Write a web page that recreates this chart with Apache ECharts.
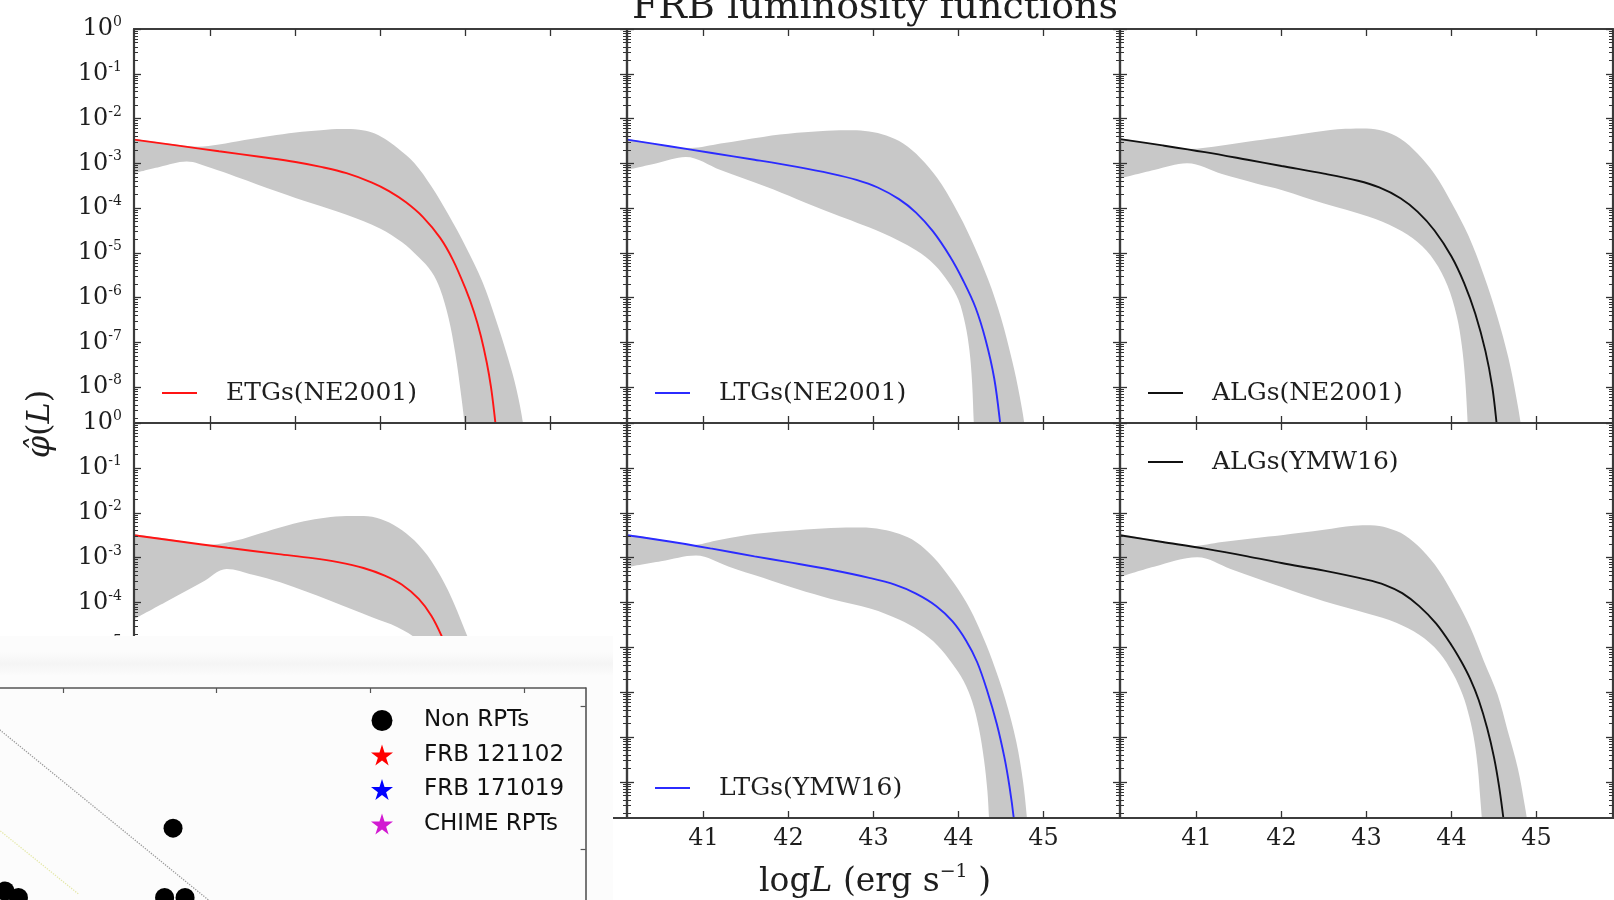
<!DOCTYPE html>
<html>
<head>
<meta charset="utf-8">
<script src="https://cdn.jsdelivr.net/npm/echarts@6/dist/echarts.min.js"></script>
<style>
  html, body { margin: 0; padding: 0; background: #ffffff; }
  #chart { width: 1614px; height: 900px; }
</style>
</head>
<body>
<div id="chart"></div>
<script>
// Tick positions: log L (erg/s) and decades of phi (stored as log10 phi)
const logLTicks = [41, 42, 43, 44, 45];
const decadeTicks = [0, -1, -2, -3, -4, -5, -6, -7, -8];

// ETGs (NE2001): best-fit curve and confidence band, [log L, log10 phi]
const etgNeLine = [[40.1,-2.47],[40.6,-2.6],[41.1,-2.73],[41.6,-2.86],[42.0,-2.97],[42.3,-3.08],[42.6,-3.22],[42.9,-3.43],[43.1,-3.62],[43.3,-3.87],[43.5,-4.2],[43.7,-4.66],[43.85,-5.15],[44.0,-5.8],[44.1,-6.32],[44.18,-6.85],[44.25,-7.45],[44.3,-8.0],[44.34,-8.6],[44.38,-9.3]];
const etgNeHi = [[40.1,-2.45],[40.5,-2.56],[40.85,-2.63],[41.1,-2.58],[41.4,-2.48],[41.7,-2.39],[42.0,-2.31],[42.3,-2.26],[42.55,-2.235],[42.75,-2.25],[42.9,-2.31],[43.05,-2.45],[43.2,-2.66],[43.4,-3.0],[43.6,-3.52],[43.8,-4.15],[44.0,-4.85],[44.2,-5.65],[44.35,-6.45],[44.5,-7.35],[44.6,-8.05],[44.68,-8.85],[44.72,-9.6]];
const etgNeLo = [[40.1,-3.22],[40.4,-3.08],[40.72,-2.96],[41.0,-3.1],[41.3,-3.3],[41.8,-3.64],[42.2,-3.9],[42.6,-4.15],[43.0,-4.46],[43.25,-4.76],[43.45,-5.1],[43.6,-5.42],[43.7,-5.8],[43.8,-6.45],[43.88,-7.25],[43.95,-8.2],[43.99,-8.85],[44.02,-9.6]];

// LTGs (NE2001)
const ltgNeLine = [[40.1,-2.47],[40.6,-2.62],[41.1,-2.77],[41.6,-2.92],[42.1,-3.08],[42.5,-3.23],[42.8,-3.37],[43.05,-3.54],[43.3,-3.8],[43.5,-4.1],[43.7,-4.52],[43.9,-5.08],[44.05,-5.6],[44.2,-6.22],[44.32,-6.95],[44.42,-7.8],[44.49,-8.8],[44.53,-9.6]];
const ltgNeHi = [[40.1,-2.45],[40.5,-2.58],[40.85,-2.66],[41.2,-2.56],[41.7,-2.41],[42.1,-2.32],[42.45,-2.27],[42.75,-2.26],[42.95,-2.29],[43.15,-2.38],[43.35,-2.56],[43.55,-2.88],[43.75,-3.33],[43.95,-3.95],[44.15,-4.7],[44.35,-5.6],[44.5,-6.45],[44.63,-7.4],[44.72,-8.2],[44.78,-8.9],[44.81,-9.6]];
const ltgNeLo = [[40.1,-3.15],[40.45,-3.0],[40.79,-2.86],[41.2,-3.15],[41.73,-3.52],[42.1,-3.8],[42.52,-4.12],[43.1,-4.55],[43.5,-4.94],[43.72,-5.27],[43.88,-5.65],[44.0,-6.05],[44.08,-6.6],[44.13,-7.2],[44.16,-7.9],[44.18,-8.8],[44.2,-9.6]];

// ALGs (NE2001)
const algNeLine = [[40.1,-2.46],[40.6,-2.6],[41.1,-2.75],[41.6,-2.92],[42.0,-3.06],[42.5,-3.23],[42.9,-3.39],[43.15,-3.54],[43.4,-3.78],[43.6,-4.08],[43.8,-4.5],[44.0,-5.08],[44.15,-5.68],[44.28,-6.36],[44.4,-7.2],[44.48,-8.0],[44.53,-8.8],[44.57,-9.6]];
const algNeHi = [[40.1,-2.44],[40.5,-2.57],[40.9,-2.68],[41.3,-2.6],[41.7,-2.49],[42.0,-2.41],[42.4,-2.3],[42.75,-2.23],[43.0,-2.22],[43.2,-2.28],[43.4,-2.45],[43.6,-2.78],[43.8,-3.24],[44.0,-3.88],[44.2,-4.62],[44.38,-5.5],[44.54,-6.43],[44.67,-7.35],[44.76,-8.2],[44.82,-8.9],[44.85,-9.6]];
const algNeLo = [[40.1,-3.34],[40.5,-3.15],[40.89,-3.0],[41.3,-3.24],[41.7,-3.45],[42.01,-3.6],[42.5,-3.9],[43.02,-4.19],[43.35,-4.45],[43.6,-4.76],[43.8,-5.18],[43.95,-5.72],[44.06,-6.4],[44.12,-7.05],[44.16,-7.8],[44.19,-8.8],[44.21,-9.6]];

// ETGs (YMW16)
const etgYmLine = [[40.1,-2.5],[40.6,-2.63],[41.2,-2.78],[41.8,-2.92],[42.2,-3.01],[42.5,-3.1],[42.8,-3.23],[43.05,-3.4],[43.25,-3.6],[43.45,-3.92],[43.6,-4.3],[43.72,-4.75],[43.85,-5.35],[44.0,-6.05],[44.15,-6.95],[44.28,-7.95],[44.37,-8.85],[44.41,-9.6]];
const etgYmHi = [[40.1,-2.48],[40.6,-2.61],[41.0,-2.71],[41.3,-2.62],[41.6,-2.45],[41.85,-2.31],[42.1,-2.19],[42.35,-2.11],[42.6,-2.07],[42.8,-2.07],[43.0,-2.14],[43.2,-2.32],[43.4,-2.62],[43.6,-3.08],[43.8,-3.75],[44.0,-4.65],[44.2,-5.6],[44.4,-6.7],[44.55,-7.7],[44.68,-8.9],[44.72,-9.6]];
const etgYmLo = [[40.1,-4.37],[40.5,-3.96],[40.9,-3.55],[41.19,-3.25],[41.5,-3.38],[41.82,-3.55],[42.41,-3.96],[42.9,-4.33],[43.2,-4.55],[43.45,-4.85],[43.62,-5.25],[43.75,-5.85],[43.85,-6.7],[43.93,-7.7],[43.98,-8.8],[44.01,-9.6]];

// LTGs (YMW16)
const ltgYmLine = [[40.1,-2.5],[40.6,-2.64],[41.1,-2.8],[41.6,-2.97],[42.0,-3.1],[42.5,-3.27],[42.95,-3.45],[43.25,-3.6],[43.5,-3.8],[43.74,-4.08],[43.93,-4.42],[44.09,-4.85],[44.22,-5.33],[44.34,-5.98],[44.45,-6.7],[44.54,-7.45],[44.6,-8.1],[44.65,-8.8],[44.69,-9.6]];
const ltgYmHi = [[40.1,-2.48],[40.5,-2.6],[40.85,-2.72],[41.2,-2.6],[41.62,-2.47],[42.1,-2.39],[42.5,-2.34],[42.85,-2.33],[43.1,-2.37],[43.3,-2.47],[43.5,-2.65],[43.7,-2.98],[43.9,-3.45],[44.1,-4.02],[44.25,-4.6],[44.4,-5.3],[44.55,-6.15],[44.68,-7.1],[44.76,-8.0],[44.81,-8.9],[44.84,-9.6]];
const ltgYmLo = [[40.1,-3.21],[40.5,-3.08],[40.91,-2.95],[41.3,-3.2],[41.7,-3.45],[42.1,-3.7],[42.5,-3.92],[42.97,-4.14],[43.3,-4.38],[43.54,-4.63],[43.75,-4.95],[43.93,-5.37],[44.06,-5.75],[44.16,-6.2],[44.24,-6.8],[44.3,-7.5],[44.34,-8.2],[44.36,-8.85],[44.38,-9.6]];

// ALGs (YMW16)
const algYmLine = [[40.1,-2.5],[40.6,-2.65],[41.1,-2.8],[41.6,-2.97],[42.0,-3.12],[42.5,-3.29],[43.0,-3.49],[43.22,-3.61],[43.42,-3.79],[43.62,-4.08],[43.82,-4.47],[44.0,-4.95],[44.12,-5.33],[44.22,-5.7],[44.32,-6.17],[44.42,-6.8],[44.5,-7.45],[44.56,-8.1],[44.61,-8.8],[44.65,-9.5]];
const algYmHi = [[40.1,-2.48],[40.5,-2.6],[40.95,-2.74],[41.3,-2.65],[41.7,-2.56],[42.0,-2.5],[42.5,-2.38],[42.85,-2.29],[43.05,-2.28],[43.25,-2.34],[43.45,-2.5],[43.65,-2.82],[43.85,-3.28],[44.05,-3.92],[44.22,-4.55],[44.38,-5.3],[44.54,-6.04],[44.66,-6.85],[44.78,-7.69],[44.86,-8.5],[44.9,-9.0],[44.93,-9.6]];
const algYmLo = [[40.1,-3.43],[40.5,-3.2],[41.01,-2.99],[41.4,-3.25],[42.01,-3.66],[42.5,-3.97],[43.02,-4.25],[43.35,-4.45],[43.62,-4.72],[43.85,-5.1],[44.02,-5.59],[44.13,-6.05],[44.21,-6.55],[44.27,-7.1],[44.31,-7.69],[44.34,-8.4],[44.36,-8.9],[44.38,-9.6]];

// Inset scatter panel (arbitrary plot units)
const insetTicksX = [1, 2, 3, 4];
const insetTicksY = [1, 2, 3];
const nonRpts = [[1.716, 2.15], [0.623, 1.71], [0.71, 1.665], [1.661, 1.665], [1.794, 1.665]];
const frb121102 = [];
const frb171019 = [];
const chimeRpts = [];
const guideLine = [[0.3, 3.09], [2.4, 1.25]];
const faintLine = [[0.5, 2.21], [1.1, 1.69]];

// ---- styling / layout ----
const SERIF = 'DejaVu Serif';
const SANS = 'DejaVu Sans';
const frameColor = '#3c3c3c';
const tickColor = '#333333';
const textColor = '#1e1e1e';
const bandColor = '#c8c8c8';
const colLeft = [134, 627, 1120];
const rowTop = [29, 423];
const panelW = 493;
const panelH = [394, 395];

// log-spaced minor tick positions inside the plotted range
const minorTicks = [];
for (let d = 0; d > -9; d--) {
  for (let k = 2; k <= 9; k++) {
    const v = d - 1 + Math.log10(k);
    if (v >= -8.8) minorTicks.push(v);
  }
}

const panels = [
  { name: 'ETGs(NE2001)', line: etgNeLine, hi: etgNeHi, lo: etgNeLo, color: '#ff1414', row: 0, col: 0, legendY: 388 },
  { name: 'LTGs(NE2001)', line: ltgNeLine, hi: ltgNeHi, lo: ltgNeLo, color: '#2b2bff', row: 0, col: 1, legendY: 388 },
  { name: 'ALGs(NE2001)', line: algNeLine, hi: algNeHi, lo: algNeLo, color: '#111111', row: 0, col: 2, legendY: 388 },
  { name: 'ETGs(YMW16)',  line: etgYmLine, hi: etgYmHi, lo: etgYmLo, color: '#ff1414', row: 1, col: 0, legendY: 783 },
  { name: 'LTGs(YMW16)',  line: ltgYmLine, hi: ltgYmHi, lo: ltgYmLo, color: '#2b2bff', row: 1, col: 1, legendY: 783 },
  { name: 'ALGs(YMW16)',  line: algYmLine, hi: algYmHi, lo: algYmLo, color: '#111111', row: 1, col: 2, legendY: 457 }
];

const grids = [], xAxes = [], yAxes = [], series = [], legends = [];

panels.forEach((p, i) => {
  grids.push({ left: colLeft[p.col], top: rowTop[p.row], width: panelW, height: panelH[p.row], outerBoundsMode: 'none' });

  ['bottom', 'top'].forEach(pos => {
    const showLabel = pos === 'bottom' && p.row === 1;
    xAxes.push({
      gridIndex: i, type: 'value', min: 40.1, max: 45.9, position: pos, z: 3,
      axisLine: { show: true, onZero: false, lineStyle: { color: frameColor, width: 2.2 } },
      axisTick: { show: true, inside: true, length: 7, customValues: logLTicks, lineStyle: { color: tickColor, width: 1.3 } },
      axisLabel: { show: showLabel, customValues: logLTicks, margin: 9, fontFamily: SERIF, fontSize: 24, color: textColor },
      splitLine: { show: false }
    });
  });

  ['left', 'right'].forEach(pos => {
    [false, true].forEach(minor => {
      const showLabel = pos === 'left' && !minor && p.col === 0;
      yAxes.push({
        gridIndex: i, type: 'value', min: -8.8, max: 0, position: pos, z: 3,
        axisLine: { show: !minor, onZero: false, lineStyle: { color: frameColor, width: 2.2 } },
        axisTick: { show: true, inside: true, length: minor ? 4 : 7, customValues: minor ? minorTicks : decadeTicks,
                    lineStyle: { color: tickColor, width: minor ? 1 : 1.3 } },
        axisLabel: {
          show: showLabel, customValues: decadeTicks, margin: 12,
          formatter: v => '{b|10}{s|' + Math.round(v) + '}',
          rich: {
            b: { fontFamily: SERIF, fontSize: 24, color: textColor, lineHeight: 27 },
            s: { fontFamily: SERIF, fontSize: 14, color: textColor, lineHeight: 14, verticalAlign: 'top' }
          }
        },
        splitLine: { show: false }
      });
    });
  });

  const xi = i * 2, yi = i * 4;
  series.push({
    type: 'line', name: p.name + ' upper', xAxisIndex: xi, yAxisIndex: yi, data: p.hi, smooth: 0.35,
    symbol: 'none', silent: true, lineStyle: { width: 0, opacity: 0 },
    areaStyle: { color: bandColor, opacity: 1, origin: 'start' }, z: 2
  });
  series.push({
    type: 'line', name: p.name + ' lower', xAxisIndex: xi, yAxisIndex: yi, data: p.lo, smooth: 0.35,
    symbol: 'none', silent: true, lineStyle: { width: 0, opacity: 0 },
    areaStyle: { color: '#ffffff', opacity: 1, origin: 'start' }, z: 2
  });
  series.push({
    type: 'line', name: p.name, xAxisIndex: xi, yAxisIndex: yi, data: p.line, color: p.color, smooth: 0.35,
    symbol: 'none', silent: true, lineStyle: { color: p.color, width: 1.9 }, z: 2
  });

  legends.push({
    data: [{ name: p.name, icon: 'rect', itemStyle: { color: p.color } }],
    left: colLeft[p.col] + 23, top: p.legendY - 13, orient: 'horizontal',
    itemWidth: 35, itemHeight: 2, selectedMode: false, z: 4,
    textStyle: { fontFamily: SERIF, fontSize: 25, color: textColor, lineHeight: 26, padding: [0, 0, 0, 24] }
  });
});

// ---- inset scatter panel ----
const insetGrid = grids.length;
grids.push({ left: -90.7, top: 688, width: 676.3, height: 447.6, outerBoundsMode: 'none' });
const insetX = xAxes.length;
xAxes.push({
  gridIndex: insetGrid, type: 'value', min: 0, max: 4.4, position: 'top', z: 110,
  axisLine: { show: true, onZero: false, lineStyle: { color: '#555555', width: 1.6 } },
  axisTick: { show: true, inside: true, length: 5, customValues: insetTicksX, lineStyle: { color: '#555555', width: 1.2 } },
  axisLabel: { show: false }, splitLine: { show: false }
});
const insetY = yAxes.length;
yAxes.push({
  gridIndex: insetGrid, type: 'value', min: 0, max: 3.13, position: 'right', z: 110,
  axisLine: { show: true, onZero: false, lineStyle: { color: '#555555', width: 1.6 } },
  axisTick: { show: true, inside: true, length: 5, customValues: insetTicksY, lineStyle: { color: '#555555', width: 1.2 } },
  axisLabel: { show: false }, splitLine: { show: false }
});

const starPath = 'path://M50,0 L61,35 L98,35 L68,57 L79,91 L50,70 L21,91 L32,57 L2,35 L39,35 Z';

series.push({
  type: 'line', name: 'guide', xAxisIndex: insetX, yAxisIndex: insetY, data: guideLine,
  symbol: 'none', silent: true, lineStyle: { color: '#9a9a9a', width: 1.3, type: 'dotted' }, z: 110
});
series.push({
  type: 'line', name: 'guide2', xAxisIndex: insetX, yAxisIndex: insetY, data: faintLine,
  symbol: 'none', silent: true, lineStyle: { color: '#e4e8a8', width: 1.3, type: 'dotted' }, z: 110
});
series.push({
  type: 'scatter', name: 'Non RPTs', xAxisIndex: insetX, yAxisIndex: insetY, data: nonRpts,
  symbol: 'circle', symbolSize: 19, itemStyle: { color: '#000000', opacity: 1 }, z: 111
});
series.push({
  type: 'scatter', name: 'FRB 121102', xAxisIndex: insetX, yAxisIndex: insetY, data: frb121102,
  symbol: starPath, symbolSize: 22, itemStyle: { color: '#ff0000', opacity: 1 }, z: 111
});
series.push({
  type: 'scatter', name: 'FRB 171019', xAxisIndex: insetX, yAxisIndex: insetY, data: frb171019,
  symbol: starPath, symbolSize: 22, itemStyle: { color: '#0000ff', opacity: 1 }, z: 111
});
series.push({
  type: 'scatter', name: 'CHIME RPTs', xAxisIndex: insetX, yAxisIndex: insetY, data: chimeRpts,
  symbol: starPath, symbolSize: 22, itemStyle: { color: '#d21ad2', opacity: 1 }, z: 111
});

legends.push({
  data: [
    { name: 'Non RPTs', icon: 'circle', itemStyle: { color: '#000000', opacity: 1 } },
    { name: 'FRB 121102', icon: starPath, itemStyle: { color: '#ff0000', opacity: 1 } },
    { name: 'FRB 171019', icon: starPath, itemStyle: { color: '#0000ff', opacity: 1 } },
    { name: 'CHIME RPTs', icon: starPath, itemStyle: { color: '#d21ad2', opacity: 1 } }
  ],
  orient: 'vertical', left: 366, top: 704, itemWidth: 22, itemHeight: 21, itemGap: 11.5,
  selectedMode: false, z: 112,
  textStyle: { fontFamily: SANS, fontSize: 23, color: '#111111', lineHeight: 21, padding: [0, 0, 0, 26] }
});

const option = {
  animation: false,
  backgroundColor: '#ffffff',
  grid: grids,
  xAxis: xAxes,
  yAxis: yAxes,
  legend: legends,
  series: series,
  graphic: [
    // figure title
    { type: 'text', x: 875, y: 8, z: 50,
      style: { text: 'FRB luminosity functions', font: '38px "DejaVu Serif"', fill: textColor, align: 'center', verticalAlign: 'middle' } },
    // x-axis title
    { type: 'text', x: 875, y: 882, z: 50,
      style: {
        text: '{n|log}{i|L}{n| (erg s}{s|−1}{n| )}', align: 'center', verticalAlign: 'middle',
        rich: {
          n: { fontFamily: SERIF, fontSize: 33, fill: textColor, lineHeight: 38 },
          i: { fontFamily: SERIF, fontStyle: 'italic', fontSize: 33, fill: textColor, lineHeight: 38 },
          s: { fontFamily: SERIF, fontSize: 19, fill: textColor, lineHeight: 19, verticalAlign: 'top' }
        }
      } },
    // y-axis title
    { type: 'text', x: 41, y: 424, rotation: Math.PI / 2, z: 50,
      style: {
        text: '{i|φ̂}{n|(}{i|L}{n|)}', align: 'center', verticalAlign: 'middle',
        rich: {
          n: { fontFamily: SERIF, fontSize: 32, fill: textColor, lineHeight: 38 },
          i: { fontFamily: SERIF, fontStyle: 'italic', fontSize: 32, fill: textColor, lineHeight: 38 }
        }
      } },
    // backing sheet of the inset panel
    { type: 'rect', z: 100, shape: { x: 0, y: 636, width: 613, height: 264 }, style: { fill: '#fcfcfc' } },
    { type: 'rect', z: 100, shape: { x: 0, y: 652, width: 613, height: 24 },
      style: { fill: { type: 'linear', x: 0, y: 0, x2: 0, y2: 1,
        colorStops: [{ offset: 0, color: 'rgba(236,236,236,0)' }, { offset: 0.5, color: 'rgba(236,236,236,0.45)' }, { offset: 1, color: 'rgba(236,236,236,0)' }] } } }
  ]
};

const chart = echarts.init(document.getElementById('chart'), null, { renderer: 'canvas' });
chart.setOption(option);
</script>
</body>
</html>
